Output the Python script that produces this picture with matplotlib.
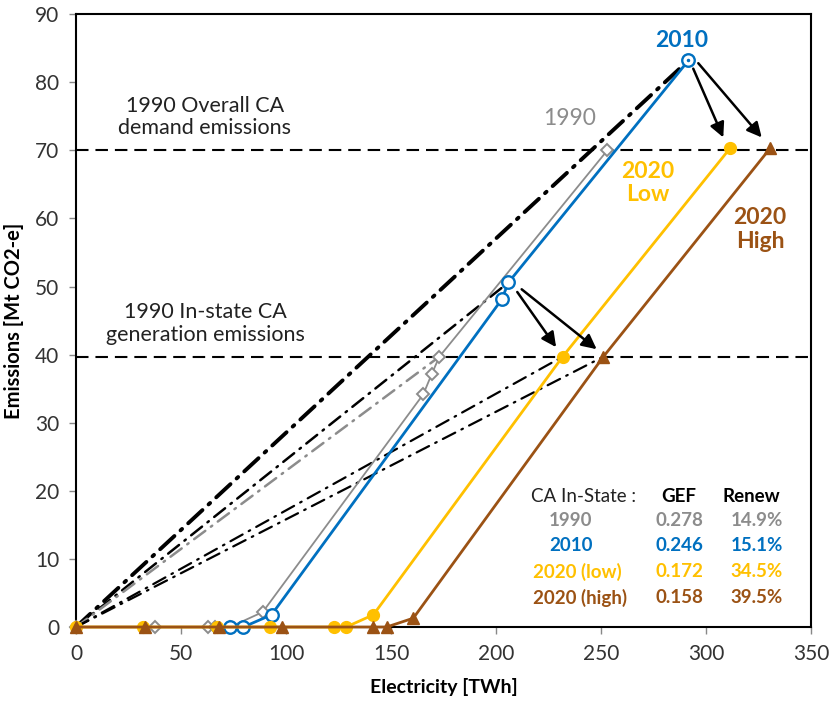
import matplotlib.pyplot as plt

plt.rcParams['font.family'] = ['Lato', 'DejaVu Sans']
plt.rcParams['lines.scale_dashes'] = False

# Electricity [TWh] vs emissions [Mt CO2-e] for each supply curve
x_1990 = [0, 37.6, 63, 66.2, 73.3, 88.9, 165.4, 169.3, 173.0, 253.0]
y_1990 = [0, 0, 0, 0, 0, 2.2, 34.2, 37.1, 39.7, 70.0]

x_2010 = [73.3, 79.7, 93.1, 202.7, 205.9, 291.6]
y_2010 = [0, 0, 1.8, 48.1, 50.6, 83.2]

x_2020_low = [0, 32.0, 67.0, 92.4, 122.9, 128.6, 141.6, 231.7, 311.4]
y_2020_low = [0, 0, 0, 0, 0, 0, 1.8, 39.7, 70.3]

x_2020_high = [0, 32.9, 68.2, 97.9, 141.6, 147.9, 160.6, 251.1, 330.5]
y_2020_high = [0, 0, 0, 0, 0, 0, 1.3, 39.7, 70.3]

# 1990 reference emission levels
demand_1990 = 70.0
instate_1990 = 39.7

# end points of the rays from the origin
ray_thick = (291.6, 83.2)
ray_2010 = (205.9, 50.6)
ray_1990 = (173.0, 39.7)
ray_low = (231.7, 39.7)
ray_high = (251.1, 39.7)

# table values
tbl_years = ['1990', '2010', '2020 (low)', '2020 (high)']
tbl_gef = ['0.278', '0.246', '0.172', '0.158']
tbl_renew = ['14.9%', '15.1%', '34.5%', '39.5%']

c_gray = '#8c8c8c'
c_blue = '#0070c0'
c_yellow = '#ffc000'
c_brown = '#9b5214'

fig = plt.figure(figsize=(8.31, 7.02), dpi=100)
ax = fig.add_axes([0.0915, 0.1068, 0.8845, 0.873])

# horizontal reference lines
for lvl in [demand_1990, instate_1990]:
    ax.axhline(lvl, color='black', lw=1.5, dashes=(9, 5), zorder=2)

# rays from the origin
def ray(end, color, lw, dashes):
    ax.plot([0, end[0]], [0, end[1]], color=color, lw=lw, dashes=dashes,
            zorder=2, dash_capstyle='round')

ray(ray_thick, 'black', 2.8, (14, 6, 1.5, 6))
ray(ray_2010, 'black', 1.8, (10, 5, 1.2, 5))
ray(ray_1990, '#8c8c8c', 1.8, (10, 5, 1.2, 5))
ray(ray_low, 'black', 1.6, (10, 5, 1.2, 5))
ray(ray_high, 'black', 1.6, (10, 5, 1.2, 5))

# supply curves
ax.plot(x_1990, y_1990, color=c_gray, lw=1.3, marker='D', ms=6.5,
        mfc='white', mec=c_gray, mew=1.4, zorder=4, clip_on=False)
ax.plot(x_2010, y_2010, color=c_blue, lw=2.0, marker='o', ms=9,
        mfc='white', mec=c_blue, mew=1.7, zorder=5, clip_on=False)
ax.plot(x_2020_low, y_2020_low, color=c_yellow, lw=2.0, marker='o', ms=8.5,
        mfc=c_yellow, mec=c_yellow, zorder=5, clip_on=False)
ax.plot(x_2020_high, y_2020_high, color=c_brown, lw=2.0, marker='^', ms=9,
        mfc=c_brown, mec=c_brown, zorder=6, clip_on=False)
ax.plot([x_2010[-1]], [y_2010[-1]], marker='.', color=c_blue, ms=3, zorder=7)

# arrows from 2010 to 2020 scenarios
arrows = [((293.9, 82.0), (308.2, 71.9)), ((296.3, 82.8), (326.5, 71.9)),
          ((210.1, 49.2), (228.6, 41.1)), ((212.2, 49.6), (247.9, 40.8))]
for start, end in arrows:
    ax.annotate('', xy=end, xytext=start,
                arrowprops=dict(arrowstyle='-|>', color='black', lw=1.8,
                                mutation_scale=22, shrinkA=0, shrinkB=0),
                zorder=8)

# annotations
ax.text(61.4, 74.9, '1990 Overall CA\ndemand emissions', ha='center',
        va='center', fontsize=15.5, color='#222222', linespacing=1.15)
ax.text(61.4, 44.6, '1990 In-state CA\ngeneration emissions', ha='center',
        va='center', fontsize=15.5, color='#222222', linespacing=1.15)
ax.text(288.2, 86.1, '2010', ha='center', va='center', fontsize=16.5,
        fontweight='bold', color=c_blue)
ax.text(235.2, 74.7, '1990', ha='center', va='center', fontsize=16.5,
        color=c_gray)
ax.text(272.4, 65.2, '2020\nLow', ha='center', va='center', fontsize=16.5,
        fontweight='bold', color=c_yellow, linespacing=1.15)
ax.text(325.7, 58.4, '2020\nHigh', ha='center', va='center', fontsize=16.5,
        fontweight='bold', color=c_brown, linespacing=1.15)

# summary table
row_y = [15.6, 11.9, 8.1, 4.3]
row_c = [c_gray, c_blue, c_yellow, c_brown]
fs_tbl = 13.5
ax.text(241.9, 19.2, 'CA In-State :', ha='center', va='center', fontsize=fs_tbl,
        color='#222222')
ax.text(287.1, 19.2, 'GEF', ha='center', va='center', fontsize=fs_tbl,
        fontweight='bold', color='black')
ax.text(321.4, 19.2, 'Renew', ha='center', va='center', fontsize=fs_tbl,
        fontweight='bold', color='black')
year_x = [235.5, 235.5, 238.6, 240.0]
for yy, c, lab, gef, ren, xx in zip(row_y, row_c, tbl_years, tbl_gef,
                                    tbl_renew, year_x):
    ax.text(xx, yy, lab, ha='center', va='center', fontsize=fs_tbl,
            fontweight='bold', color=c)
    ax.text(287.1, yy, gef, ha='center', va='center', fontsize=fs_tbl,
            fontweight='bold', color=c)
    ax.text(336.7, yy, ren, ha='right', va='center', fontsize=fs_tbl,
            fontweight='bold', color=c)

# axes
ax.set_xlim(0, 350)
ax.set_ylim(0, 90)
ax.set_xticks(range(0, 351, 50))
ax.set_yticks(range(0, 91, 10))
ax.tick_params(direction='out', length=5, width=1, labelsize=15,
               labelcolor='#333333', color='#888888', pad=7)
for s in ax.spines.values():
    s.set_linewidth(1.5)
    s.set_color('black')
ax.set_xlabel('Electricity [TWh]', fontsize=14, fontweight='bold', labelpad=10)
ax.set_ylabel('Emissions [Mt CO2-e]', fontsize=14.5, fontweight='bold',
              labelpad=8)

fig.savefig('out.png', dpi=100)
